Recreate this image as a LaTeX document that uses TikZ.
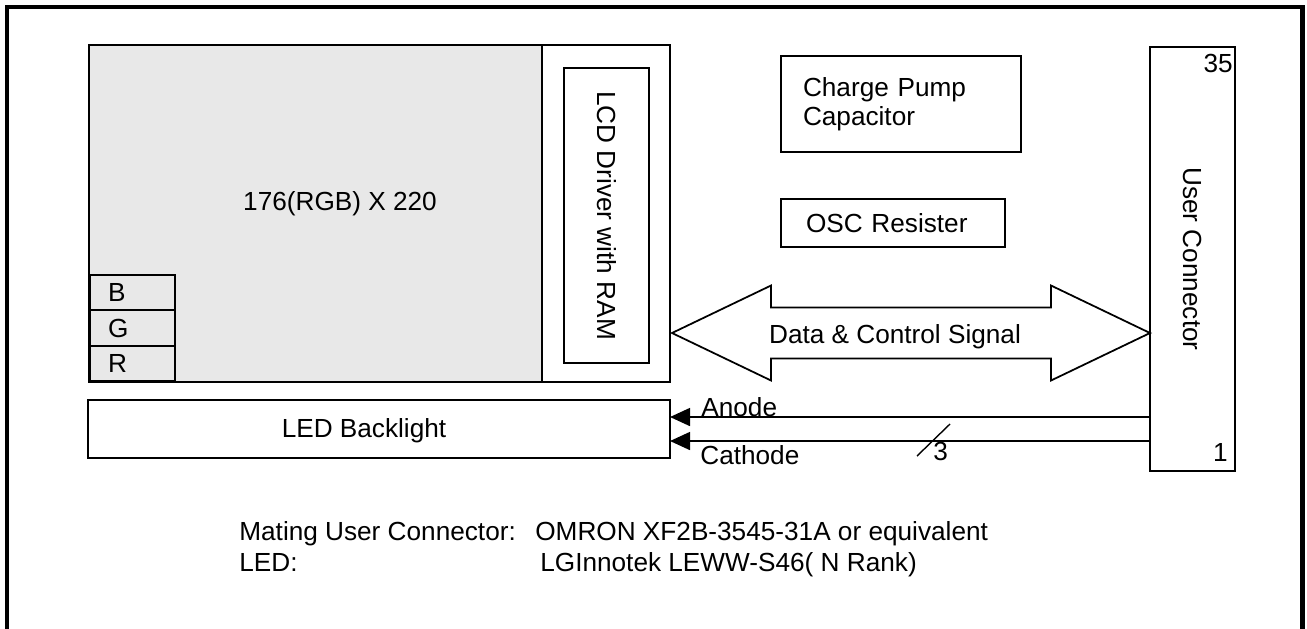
\documentclass[tikz,border=0pt]{standalone}
\usepackage{fontspec}
\setmainfont{Liberation Sans}
\usetikzlibrary{arrows.meta,positioning}
\definecolor{panelgray}{HTML}{E8E8E8}
\begin{document}
\begin{tikzpicture}[x=0.2mm, y=-0.2mm, line join=miter, font=\fontsize{14.9}{16.4}\selectfont,
	box/.style={draw, line width=1pt, inner sep=0pt, outer sep=0pt},
	cell/.style={box, fill=panelgray, minimum width=17mm, minimum height=7.06mm, text width=9.8mm, inner xsep=3.6mm, align=left},
	txt/.style={inner sep=0pt},
	wire/.style={line width=0.9pt, -{Triangle[length=4mm,width=3.6mm]}}]
	\useasboundingbox (0,0) rectangle (1307,628);
	\draw[line width=2.8pt] (7,630) |- (1302.5,7) -- (1302.5,630); % frame
	% panel and driver
	\node[box, fill=panelgray, minimum width=90.6mm, minimum height=67.4mm] (panel) at (315.5,213.5) {};
	\node[txt, anchor=base] (res) at (340,210) {176(RGB) X 220};
	\node[box, minimum width=25.6mm, minimum height=67.4mm] (drv) at (606,213.5) {};
	\node[box, minimum width=17mm, minimum height=59mm] (ram) at (606.5,215.5) {\rotatebox{-90}{LCD Driver with RAM}};
	\node[cell] (b) at (132.5,292.7) {B};
	\node[cell, below=0pt of b] (g) {G};
	\node[cell, below=0pt of g] (r) {R};
	% backlight
	\node[box, minimum width=116.4mm, minimum height=11.6mm] (led) at (379,429) {};
	\node[txt, anchor=base] (ledtxt) at (364,437) {LED Backlight};
	% parts on the right
	\node[box, minimum width=48mm, minimum height=19.2mm, text width=39.2mm, inner xsep=4.4mm, align=left] (pump) at (901,104) {Charge Pump\\Capacitor};
	\node[box, minimum width=44.8mm, minimum height=9.6mm, text width=34.8mm, inner xsep=5mm, align=left] (osc) at (893,223) {OSC Resister};
	\node[box, minimum width=17mm, minimum height=84.8mm] (conn) at (1192.5,259) {\rotatebox{-90}{User Connector}};
	\node[txt, anchor=base east] (pin35) at (1233,72) {35};
	\node[txt, anchor=base east] (pin1) at (1228,461) {1};
	% data bus
	\coordinate (busL) at (672,333);
	\coordinate (busR) at (conn.west |- busL);
	\draw[line width=1pt] (busL) -- ++(99,-47.5) -- ++(0,22) -- ++(280,0) -- ++(0,-22) -- (busR)
		-- ++(-99,47.5) -- ++(0,-22) -- ++(-280,0) -- ++(0,22) -- cycle;
	\node[txt, anchor=base] (bus) at (895,343) {Data \& Control Signal};
	% anode / cathode
	\coordinate (ya) at (0,417);
	\coordinate (yc) at (0,441);
	\draw[wire] (conn.west |- ya) -- (led.east |- ya);
	\draw[wire] (conn.west |- yc) -- (led.east |- yc);
	\node[txt, anchor=base west] (anode) at (701,416) {Anode};
	\node[txt, anchor=base west] (cathode) at (700,464) {Cathode};
	\draw[line width=0.8pt] (917,456) -- (950,424);
	\node[txt, anchor=base west] (n3) at (933,460) {3};
	% notes
	\node[txt, anchor=base west] (mate) at (239,540) {Mating User Connector:};
	\node[txt, anchor=base west] (matepn) at (535,540) {OMRON XF2B-3545-31A or equivalent};
	\node[txt, anchor=base west] (ledl) at (239,571) {LED:};
	\node[txt, anchor=base west] (ledpn) at (540,571) {LGInnotek LEWW-S46( N Rank)};
\end{tikzpicture}
\end{document}
